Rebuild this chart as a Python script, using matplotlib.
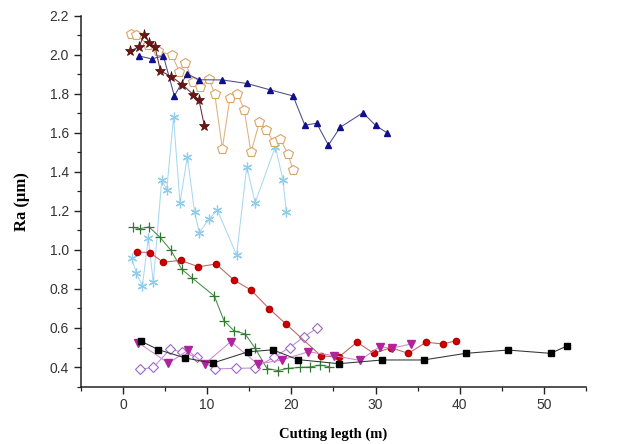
import matplotlib
matplotlib.use("Agg")
import matplotlib.pyplot as plt
from matplotlib.ticker import MultipleLocator

# --- data ---
star_x = [0.8, 1.85, 2.55, 3.1, 3.8, 4.45, 5.75, 7.05, 8.35, 9.03, 9.66]
star_y = [2.02, 2.04, 2.103, 2.063, 2.043, 1.918, 1.889, 1.848, 1.797, 1.769, 1.637]

tri_x = [1.9, 3.4, 4.8, 6.1, 7.6, 9.06, 11.8, 14.7, 17.5, 20.2, 21.6, 23.0, 24.4, 25.8, 28.5, 30.0, 31.4]
tri_y = [1.995, 1.98, 1.995, 1.79, 1.903, 1.873, 1.872, 1.854, 1.821, 1.79, 1.64, 1.65, 1.538, 1.629, 1.704, 1.639, 1.6]

pent_x = [0.9, 1.6, 3.0, 4.2, 5.8, 6.7, 7.4, 8.35, 9.2, 10.2, 10.9, 11.8, 12.7, 13.6, 14.4, 15.2, 16.2, 17.0, 17.9, 18.7, 19.6, 20.2]
pent_y = [2.11, 2.105, 2.05, 2.02, 2.0, 1.915, 1.96, 1.86, 1.835, 1.878, 1.80, 1.52, 1.78, 1.80, 1.72, 1.50, 1.656, 1.617, 1.553, 1.57, 1.49, 1.41]

ast_x = [1.03, 1.6, 2.3, 3.0, 3.6, 4.6, 5.2, 6.0, 6.77, 7.64, 8.5, 9.06, 10.2, 11.2, 13.5, 14.7, 15.7, 18.1, 19.0, 19.4]
ast_y = [0.957, 0.88, 0.815, 1.06, 0.837, 1.359, 1.31, 1.68, 1.243, 1.478, 1.196, 1.089, 1.157, 1.205, 0.974, 1.427, 1.243, 1.53, 1.359, 1.196]

plus_x = [1.22, 2.0, 3.1, 4.4, 5.7, 7.0, 8.2, 10.85, 12.0, 13.2, 14.5, 15.7, 17.1, 18.4, 19.6, 21.0, 22.2, 23.4, 24.5]
plus_y = [1.116, 1.11, 1.118, 1.065, 0.998, 0.9, 0.857, 0.764, 0.637, 0.585, 0.57, 0.496, 0.392, 0.382, 0.393, 0.398, 0.4, 0.41, 0.402]

circ_x = [1.62, 3.2, 4.75, 6.85, 8.95, 11.05, 13.2, 15.2, 17.4, 19.4, 23.5, 25.6, 27.8, 29.8, 31.8, 33.9, 36.0, 38.0, 39.6]
circ_y = [0.99, 0.987, 0.937, 0.947, 0.914, 0.928, 0.845, 0.795, 0.697, 0.619, 0.458, 0.45, 0.527, 0.47, 0.499, 0.47, 0.527, 0.518, 0.535]

sq_x = [2.1, 4.2, 7.4, 10.65, 14.85, 17.8, 20.75, 25.65, 30.8, 35.7, 40.7, 45.7, 50.8, 52.8]
sq_y = [0.533, 0.489, 0.446, 0.42, 0.478, 0.488, 0.438, 0.417, 0.436, 0.436, 0.47, 0.487, 0.47, 0.509]

tdn_x = [1.8, 5.4, 7.7, 9.7, 12.8, 16.0, 18.85, 22.0, 25.1, 28.1, 30.5, 31.9, 34.2]
tdn_y = [0.525, 0.42, 0.485, 0.415, 0.53, 0.415, 0.436, 0.478, 0.458, 0.434, 0.504, 0.496, 0.518]

dia_x = [2.0, 3.6, 5.58, 7.0, 8.75, 10.9, 13.4, 15.7, 17.9, 19.8, 21.5, 23.1]
dia_y = [0.388, 0.398, 0.49, 0.478, 0.45, 0.39, 0.393, 0.395, 0.45, 0.5, 0.555, 0.6]

x_ticks = [0, 10, 20, 30, 40, 50]
y_ticks = [0.4, 0.6, 0.8, 1.0, 1.2, 1.4, 1.6, 1.8, 2.0, 2.2]

fig = plt.figure(figsize=(6.19, 4.44), dpi=100)
ax = fig.add_axes([0.1307, 0.1295, 0.816, 0.8345])

lw = 0.75
ax.plot(ast_x, ast_y, color="#a8d8f0", lw=lw, ls="-", marker=(6, 2, 0), ms=7,
        mec="#90cdea", mew=0.9, zorder=2)
ax.plot(pent_x, pent_y, color="#dcb07a", lw=lw, marker="p", ms=7, mfc="white",
        mec="#d9a466", mew=0.8, zorder=3)
ax.plot(tri_x, tri_y, color="#4a4a8a", lw=lw, marker="^", ms=5, mfc="#10108a",
        mec="#10108a", zorder=4)
ax.plot(star_x, star_y, color="#6a2a3a", lw=lw, marker="*", ms=8, mfc="#6e1515",
        mec="#4a0a0a", mew=0.5, zorder=5)
ax.plot(plus_x, plus_y, color="#4a8a4a", lw=lw, marker="+", ms=6.5, mec="#2f7a2f",
        mew=0.9, zorder=3)
ax.plot(circ_x, circ_y, color="#c06060", lw=lw, marker="o", ms=4.5, mfc="#d00000",
        mec="#b00000", zorder=4)
ax.plot(dia_x, dia_y, color="#b98ad6", lw=lw, marker="D", ms=5.5, mfc="white",
        mec="#9a66c8", mew=0.8, zorder=3)
ax.plot(tdn_x, tdn_y, color="#cf88c8", lw=lw, marker="v", ms=5.5, mfc="#b0239a",
        mec="#b0239a", zorder=4)
ax.plot(sq_x, sq_y, color="#333333", lw=lw, marker="s", ms=4.2, mfc="black",
        mec="black", zorder=5)

ax.set_xlim(-5, 55)
ax.set_ylim(0.3, 2.2)
ax.set_xticks(x_ticks)
ax.set_yticks(y_ticks)
ax.set_yticklabels([f"{v:.1f}" for v in y_ticks])
ax.xaxis.set_minor_locator(MultipleLocator(5))
ax.yaxis.set_minor_locator(MultipleLocator(0.1))

for s in ["top", "right"]:
    ax.spines[s].set_visible(False)
for s in ["left", "bottom"]:
    ax.spines[s].set_linewidth(1.1)
    ax.spines[s].set_color("#222222")

ax.tick_params(which="major", direction="out", length=5, width=1.0, color="#222222",
               labelsize=10, labelcolor="#333333")
ax.tick_params(which="minor", direction="out", length=3, width=0.9, color="#222222")
for lab in ax.get_xticklabels() + ax.get_yticklabels():
    lab.set_fontfamily("Liberation Sans")

ax.set_xlabel("Cutting legth (m)", family="Liberation Serif", fontweight="bold",
              fontsize=10.5, labelpad=11)
ax.set_ylabel("Ra (μm)", family="Liberation Serif", fontweight="bold",
              fontsize=12, labelpad=14)

fig.savefig("out.png", dpi=100, facecolor="white")
